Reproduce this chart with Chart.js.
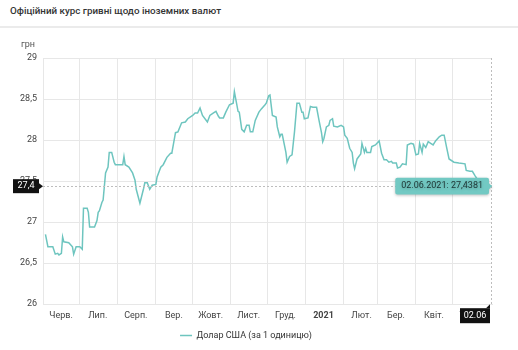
<!DOCTYPE html>
<html lang="uk">
<head>
<meta charset="utf-8">
<title>Офіційний курс гривні</title>
<script src="https://cdn.jsdelivr.net/npm/chart.js@4"></script>
<style>
    body { margin: 0; background: #fff; font-family: Roboto, sans-serif; }
    .title {
        position: absolute; left: 10px; top: 5px;
        font-size: 9.8px; font-weight: 500; color: #333;
    }
    .sep { position: absolute; left: 0; top: 26px; width: 518px; height: 2px; background: #ebebeb; }
    .wrap { position: absolute; left: 0; top: 30px; width: 518px; height: 320px; }
</style>
</head>
<body>
<div class="title">Офіційний курс гривні щодо іноземних валют</div>
<div class="sep"></div>
<div class="wrap"><canvas id="rateChart"></canvas></div>

<script>
    // дні від 01.06.2020
    const days = [
        2, 4, 8, 10, 12, 13, 15, 16, 17, 21, 24, 25, 27, 30, 32, 33, 36, 37, 38, 42,
        44, 45, 46, 48, 49, 51, 53, 54, 56, 58, 59, 65, 66, 67, 70, 73, 75, 76, 79, 82,
        83, 85, 87, 89, 92, 93, 96, 98, 101, 104, 105, 108, 110, 113, 116, 118, 122, 124, 126, 128,
        130, 134, 136, 139, 141, 143, 144, 147, 149, 152, 155, 156, 159, 160, 162, 164, 166, 168, 169, 171,
        173, 176, 178, 181, 182, 184, 185, 187, 190, 191, 193, 194, 195, 198, 199, 201, 203, 205, 207, 209,
        211, 212, 213, 216, 218, 220, 223, 225, 227, 228, 229, 231, 233, 234, 236, 237, 240, 243, 245, 246,
        248, 250, 252, 253, 254, 256, 259, 260, 262, 263, 264, 267, 268, 271, 274, 276, 278, 280, 282, 284,
        285, 288, 289, 291, 293, 296, 297, 300, 302, 304, 306, 307, 309, 310, 312, 314, 316, 318, 320, 323,
        325, 327, 329, 331, 335, 339, 344, 345, 348, 350, 352, 355, 360, 366
    ];
    // курс долара США, грн
    const usdRate = [
        26.85, 26.70, 26.70, 26.61, 26.62, 26.60, 26.62, 26.82, 26.76, 26.75, 26.70, 26.61, 26.70, 26.70, 26.67, 27.17, 27.17, 27.12, 26.94, 26.94,
        27.02, 27.12, 27.14, 27.24, 27.27, 27.60, 27.67, 27.85, 27.85, 27.73, 27.70, 27.70, 27.80, 27.70, 27.67, 27.60, 27.51, 27.40, 27.23, 27.41,
        27.48, 27.48, 27.40, 27.45, 27.46, 27.55, 27.67, 27.70, 27.79, 27.84, 27.84, 28.09, 28.10, 28.21, 28.22, 28.26, 28.30, 28.33, 28.33, 28.39,
        28.30, 28.22, 28.30, 28.33, 28.35, 28.29, 28.27, 28.27, 28.34, 28.43, 28.45, 28.59, 28.35, 28.34, 28.13, 28.10, 28.18, 28.18, 28.10, 28.10,
        28.24, 28.34, 28.38, 28.43, 28.45, 28.54, 28.55, 28.30, 28.28, 28.16, 28.04, 28.07, 28.07, 27.85, 27.73, 27.80, 27.82, 28.10, 28.45, 28.45,
        28.34, 28.34, 28.26, 28.27, 28.41, 28.40, 28.40, 28.24, 28.09, 27.98, 28.02, 28.16, 28.18, 28.24, 28.26, 28.17, 28.16, 28.18, 28.16, 28.06,
        28.02, 27.90, 27.85, 27.72, 27.65, 27.77, 27.83, 27.96, 27.85, 27.90, 27.85, 27.85, 27.92, 27.94, 27.99, 27.84, 27.76, 27.76, 27.73, 27.74,
        27.72, 27.72, 27.66, 27.67, 27.71, 27.70, 27.94, 27.96, 27.95, 27.82, 27.83, 27.96, 27.85, 27.95, 27.91, 27.98, 27.96, 27.94, 27.99, 28.04,
        28.06, 28.06, 27.91, 27.77, 27.73, 27.72, 27.71, 27.63, 27.62, 27.62, 27.57, 27.50, 27.46, 27.4381
    ];
    // початки місяців і їх підписи
    const monthStarts = [0, 30, 61, 92, 122, 153, 183, 214, 245, 273, 304, 334];
    const monthLabels = ['Черв.', 'Лип.', 'Серп.', 'Вер.', 'Жовт.', 'Лист.', 'Груд.', '2021', 'Лют.', 'Бер.', 'Квіт.', 'Трав.'];
    const yTicks = [26, 26.5, 27, 27.5, 28, 28.5, 29];

    const startDate = Date.UTC(2020, 5, 1);
    const lineColor = '#6ec5bf';
    const gridColor = '#e7e7e7';
    const fontSize = 9;

    function dayToDate(d) {
        const dt = new Date(startDate + d * 86400000);
        const dd = String(dt.getUTCDate()).padStart(2, '0');
        const mm = String(dt.getUTCMonth() + 1).padStart(2, '0');
        return { short: dd + '.' + mm, full: dd + '.' + mm + '.' + dt.getUTCFullYear() };
    }
    const comma = v => String(v).replace('.', ',');

    // перехрестя на останньому значенні з мітками на осях
    const crosshair = {
        id: 'crosshair',
        afterDatasetsDraw(chart) {
            const { ctx, chartArea: a, scales } = chart;
            const last = days.length - 1;
            const px = scales.x.getPixelForValue(days[last]);
            const py = scales.y.getPixelForValue(usdRate[last]);
            ctx.save();
            ctx.strokeStyle = '#bdbdbd';
            ctx.lineWidth = 1;
            ctx.setLineDash([2, 2]);
            ctx.beginPath();
            ctx.moveTo(a.left, Math.round(py) + 0.5);
            ctx.lineTo(px, Math.round(py) + 0.5);
            ctx.moveTo(Math.round(px) - 0.5, a.top);
            ctx.lineTo(Math.round(px) - 0.5, a.bottom);
            ctx.stroke();
            ctx.setLineDash([]);

            ctx.font = fontSize + 'px Roboto';
            ctx.textBaseline = 'middle';

            // мітка на осі Y
            const yLab = comma(usdRate[last].toFixed(1));
            ctx.fillStyle = '#111';
            ctx.fillRect(a.left - 30, py - 7, 26, 14);
            ctx.beginPath();
            ctx.moveTo(a.left - 4, py - 3);
            ctx.lineTo(a.left, py);
            ctx.lineTo(a.left - 4, py + 3);
            ctx.fill();
            ctx.fillStyle = '#fff';
            ctx.textAlign = 'center';
            ctx.fillText(yLab, a.left - 17, py);

            // мітка на осі X
            const xLab = dayToDate(days[last]).short;
            ctx.fillStyle = '#111';
            ctx.fillRect(px - 32, a.bottom + 4, 30, 15);
            ctx.beginPath();
            ctx.moveTo(px - 6, a.bottom + 4);
            ctx.lineTo(px - 2, a.bottom);
            ctx.lineTo(px - 2, a.bottom + 4);
            ctx.fill();
            ctx.fillStyle = '#fff';
            ctx.fillText(xLab, px - 17, a.bottom + 11.5);

            // одиниці виміру
            ctx.fillStyle = '#555';
            ctx.textAlign = 'right';
            ctx.fillText('грн', a.left - 8, a.top - 13);
            ctx.restore();
        },
        beforeTooltipDraw(chart) {
            const ctx = chart.ctx;
            ctx.save();
            ctx.shadowColor = 'rgba(0,0,0,0.25)';
            ctx.shadowBlur = 3;
            ctx.shadowOffsetY = 1;
        },
        afterTooltipDraw(chart) {
            chart.ctx.restore();
        }
    };

    const ctx = document.getElementById('rateChart').getContext('2d');
    const rateChart = new Chart(ctx, {
        type: 'line',
        data: {
            datasets: [{
                label: 'Долар США (за 1 одиницю)',
                data: days.map((d, i) => ({ x: d, y: usdRate[i] })),
                borderColor: lineColor,
                backgroundColor: lineColor,
                borderWidth: 1.5,
                pointRadius: 0,
                pointHoverRadius: 0,
                tension: 0
            }]
        },
        options: {
            responsive: true,
            maintainAspectRatio: false,
            animation: false,
            events: [],
            layout: { padding: { top: 28, right: 26, left: 0, bottom: 0 } },
            scales: {
                x: {
                    type: 'linear',
                    min: 0,
                    max: 366,
                    afterBuildTicks: scale => { scale.ticks = monthStarts.map(v => ({ value: v })); },
                    grid: { color: gridColor, drawTicks: false },
                    border: { color: gridColor },
                    ticks: {
                        autoSkip: false,
                        maxRotation: 0,
                        padding: 6,
                        labelOffset: 18,
                        color: '#444',
                        font: c => ({ family: 'Roboto', size: fontSize, weight: c.tick && c.tick.value === 214 ? 'bold' : 'normal' }),
                        callback: (v, i) => monthLabels[i]
                    }
                },
                y: {
                    min: 26,
                    max: 29,
                    afterBuildTicks: scale => { scale.ticks = yTicks.map(v => ({ value: v })); },
                    afterFit: scale => { scale.width = 43; },
                    grid: { color: gridColor, drawTicks: false },
                    border: { color: gridColor },
                    ticks: {
                        padding: 6,
                        color: '#444',
                        font: { family: 'Roboto', size: fontSize },
                        callback: v => comma(v)
                    }
                }
            },
            plugins: {
                legend: {
                    position: 'bottom',
                    labels: {
                        usePointStyle: true,
                        pointStyle: 'line',
                        pointStyleWidth: 12,
                        padding: 4,
                        color: '#333',
                        font: { family: 'Roboto', size: fontSize }
                    }
                },
                tooltip: {
                    xAlign: 'right',
                    yAlign: 'center',
                    backgroundColor: '#72c9c3',
                    bodyColor: '#1d3534',
                    bodyFont: { family: 'Roboto', size: fontSize },
                    padding: { left: 6, right: 6, top: 3, bottom: 3 },
                    caretSize: 3,
                    caretPadding: 0,
                    cornerRadius: 2,
                    displayColors: false,
                    callbacks: {
                        title: () => '',
                        label: c => dayToDate(days[c.dataIndex]).full + ': ' + comma(usdRate[c.dataIndex].toFixed(4))
                    }
                }
            }
        },
        plugins: [crosshair]
    });

    const lastIndex = days.length - 1;
    const lastPoint = rateChart.getDatasetMeta(0).data[lastIndex];
    rateChart.tooltip.setActiveElements([{ datasetIndex: 0, index: lastIndex }], { x: lastPoint.x, y: lastPoint.y });
    rateChart.update();
</script>
</body>
</html>
